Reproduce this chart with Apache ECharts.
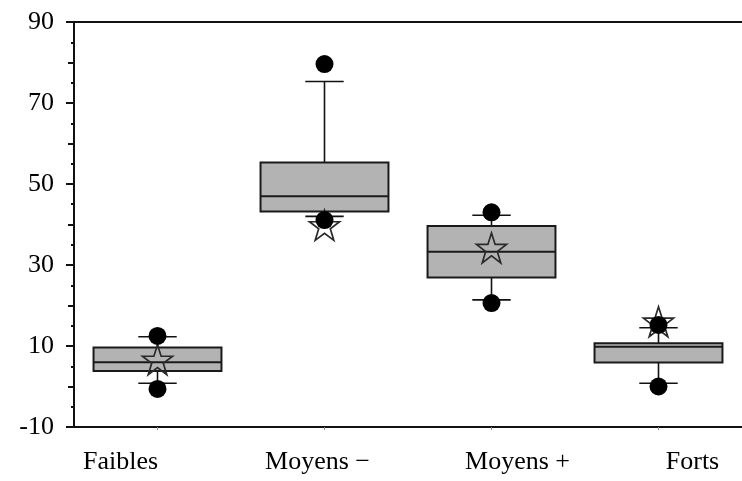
<!DOCTYPE html>
<html>
<head>
<meta charset="utf-8">
<script src="https://cdn.jsdelivr.net/npm/echarts@6/dist/echarts.min.js"></script>
<style>html,body{margin:0;padding:0;background:#fff}#c{width:742px;height:481px}</style>
</head>
<body>
<div id="c"></div>
<script>
const categories = ['Faibles', 'Moyens \u2212', 'Moyens +', 'Forts'];
const lowWhisker = [0.8, 42.0, 21.4, 0.8];
const q1 = [3.8, 43.2, 26.9, 5.9];
const median = [6.0, 47.0, 33.3, 9.8];
const q3 = [9.6, 55.3, 39.6, 10.7];
const highWhisker = [12.3, 75.3, 42.3, 14.5];
const minPoints = [-0.6, 41.1, 20.6, 0.0];
const maxPoints = [12.5, 79.6, 43.0, 15.2];
const means = [6.6, 39.8, 34.2, 16.0];
const yTicks = [-10, 10, 30, 50, 70, 90];

const font = 'Liberation Serif, Times New Roman, serif';
const labelShift = {
  'Faibles': [0, 74, 0, 0],
  'Moyens \u2212': [0, 14, 0, 0],
  'Moyens +': [0, 0, 0, 52],
  'Forts': [0, 0, 0, 68]
};
const rich = {};
categories.forEach((c, i) => {
  rich['l' + i] = { padding: labelShift[c], fontSize: 26, fontFamily: font, color: '#000' };
});

const boxData = categories.map((c, i) => [i, lowWhisker[i], q1[i], median[i], q3[i], highWhisker[i]]);
const dotData = [];
categories.forEach((c, i) => { dotData.push([i, minPoints[i]]); dotData.push([i, maxPoints[i]]); });
const meanData = categories.map((c, i) => [i, means[i]]);

const star = 'path://M50,0 L61.8,35.1 L98.9,35.1 L68.9,56.8 L80.3,91.9 L50,70.2 L19.7,91.9 L31.1,56.8 L1.1,35.1 L38.2,35.1 Z';

const chart = echarts.init(document.getElementById('c'), null, { renderer: 'canvas' });
chart.setOption({
  animation: false,
  backgroundColor: '#fff',
  grid: { left: 74, right: -3, top: 22, bottom: 54 },
  xAxis: [{
    type: 'category', data: categories, position: 'bottom',
    axisLine: { onZero: false, lineStyle: { color: '#111', width: 2 } },
    axisTick: { show: true, alignWithLabel: true, length: 3, lineStyle: { color: '#888' } },
    axisLabel: {
      interval: 0, hideOverlap: false,
      margin: 22, fontSize: 26, fontFamily: font, color: '#000', rich: rich,
      formatter: (v) => '{l' + categories.indexOf(v) + '|' + v + '}'
    },
    splitLine: { show: false }
  }, {
    type: 'category', data: categories, position: 'top',
    axisLine: { onZero: false, lineStyle: { color: '#111', width: 2 } },
    axisTick: { show: false }, axisLabel: { show: false }, splitLine: { show: false }
  }],
  yAxis: [{
    type: 'value', min: -10, max: 90, interval: 10, position: 'left',
    axisLine: { show: true, onZero: false, lineStyle: { color: '#111', width: 2 } },
    axisTick: { show: true, length: 6, lineStyle: { color: '#111', width: 2 } },
    minorTick: { show: true, splitNumber: 2, length: 3, lineStyle: { color: '#111', width: 2 } },
    axisLabel: { show: false },
    splitLine: { show: false }
  }, {
    type: 'value', min: -10, max: 90, interval: 20, position: 'left', offset: 0,
    axisLine: { show: false, onZero: false },
    axisTick: { show: true, length: 8, lineStyle: { color: '#111', width: 2 } },
    axisLabel: {
      margin: 20, fontSize: 26, fontFamily: font, color: '#000',
      formatter: (v) => yTicks.indexOf(v) >= 0 ? String(v) : ''
    },
    splitLine: { show: false }
  }],
  series: [{
    type: 'custom',
    xAxisIndex: 0, yAxisIndex: 0,
    data: boxData,
    encode: { x: 0, y: [1, 2, 3, 4, 5] },
    renderItem: function (params, api) {
      const xi = api.value(0);
      const band = api.size([1, 0])[0];
      const bw = band * 0.766;
      const cw = band * 0.23;
      const pLow = api.coord([xi, api.value(1)]);
      const pQ1 = api.coord([xi, api.value(2)]);
      const pMed = api.coord([xi, api.value(3)]);
      const pQ3 = api.coord([xi, api.value(4)]);
      const pHigh = api.coord([xi, api.value(5)]);
      const cx = pQ1[0];
      const lineStyle = { stroke: '#111', lineWidth: 1.6 };
      return {
        type: 'group',
        children: [
          { type: 'line', shape: { x1: cx, y1: pQ3[1], x2: cx, y2: pHigh[1] }, style: lineStyle },
          { type: 'line', shape: { x1: cx, y1: pQ1[1], x2: cx, y2: pLow[1] }, style: lineStyle },
          { type: 'line', shape: { x1: cx - cw / 2, y1: pHigh[1], x2: cx + cw / 2, y2: pHigh[1] }, style: lineStyle },
          { type: 'line', shape: { x1: cx - cw / 2, y1: pLow[1], x2: cx + cw / 2, y2: pLow[1] }, style: lineStyle },
          { type: 'rect', shape: { x: cx - bw / 2, y: pQ3[1], width: bw, height: pQ1[1] - pQ3[1] }, style: { fill: '#b3b3b3', stroke: '#1a1a1a', lineWidth: 2 } },
          { type: 'line', shape: { x1: cx - bw / 2, y1: pMed[1], x2: cx + bw / 2, y2: pMed[1] }, style: { stroke: '#1a1a1a', lineWidth: 2 } }
        ]
      };
    }
  }, {
    type: 'scatter', xAxisIndex: 0, yAxisIndex: 0,
    data: meanData, symbol: star, symbolSize: 30,
    itemStyle: { color: 'rgba(0,0,0,0)', borderColor: '#2a2a2a', borderWidth: 1.7, opacity: 1 },
    z: 3
  }, {
    type: 'scatter', xAxisIndex: 0, yAxisIndex: 0,
    data: dotData, symbol: 'circle', symbolSize: 18,
    itemStyle: { color: '#000', opacity: 1 },
    z: 4
  }]
});
</script>
</body>
</html>
